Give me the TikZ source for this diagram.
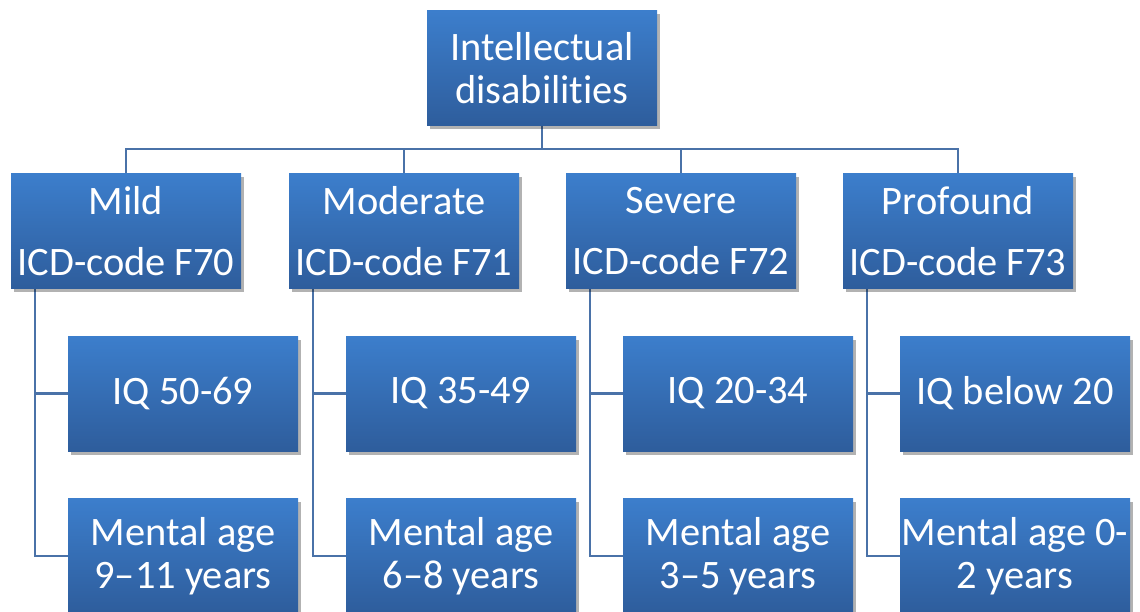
\documentclass[tikz,border=0pt]{standalone}
\usepackage{fontspec}
\setmainfont{Carlito}[RawFeature=-liga]
\usepackage{xcolor}
\definecolor{boxtop}{RGB}{60,126,204}
\definecolor{boxbottom}{RGB}{46,93,156}
\definecolor{wire}{RGB}{74,114,168}
\usetikzlibrary{backgrounds,shadows}
\tikzset{
    level/.style = {
      top color=boxtop,
      bottom color=boxbottom,
      text=white,
      minimum width=4.6cm,
      minimum height=2.3cm,
      inner sep=0pt,
      align=center,
      font=\fontsize{23}{24.5}\selectfont,
      drop shadow={shadow xshift=0.05cm, shadow yshift=-0.07cm,
                   opacity=0.3, fill=black}
    },
    link/.style = {
      draw=wire,
      line width=1.2pt
    }
}

\begin{document}
\begin{tikzpicture}
      \useasboundingbox (0,0) rectangle (22.8,-12.24);

      \node[level] (ID) at (10.84, -1.37) {Intellectual\\disabilities};

      \node[level] (mild) at (2.52,  -4.62) {Mild\\[10pt]ICD-code F70};
      \node[level] (mod)  at (8.08,  -4.62) {Moderate\\[10pt]ICD-code F71};
      \node[level] (sev)  at (13.62, -4.62) {Severe\\[10pt]ICD-code F72};
      \node[level] (prof) at (19.16, -4.62) {Profound\\[10pt]ICD-code F73};

      \node[level] (mildIQ)  at (3.66,  -7.87) {IQ 50-69};
      \node[level] (modIQ)   at (9.22,  -7.87) {IQ 35-49};
      \node[level] (sevIQ)   at (14.76, -7.87) {IQ 20-34};
      \node[level] (profIQ)  at (20.3,  -7.87) {IQ below 20};

      \node[level] (mildAge) at (3.66,  -11.12) {Mental age\\9--11 years};
      \node[level] (modAge)  at (9.22,  -11.12) {Mental age\\6--8 years};
      \node[level] (sevAge)  at (14.76, -11.12) {Mental age\\3--5 years};
      \node[level] (profAge) at (20.3,  -11.12) {Mental age 0-\\2 years};

      \begin{scope}[on background layer]
        % top bus
        \draw[link] (ID.south) -- ++(0,-0.46) coordinate (bus);
        \draw[link] (mild.north) |- (bus) -| (prof.north);
        \draw[link] (mod.north) |- (bus);
        \draw[link] (sev.north) |- (bus);

        % branches of each group
        \draw[link] ([xshift=0.48cm]mild.south west) |- (mildIQ.west);
        \draw[link] ([xshift=0.48cm]mild.south west) |- (mildAge.west);
        \draw[link] ([xshift=0.48cm]mod.south west)  |- (modIQ.west);
        \draw[link] ([xshift=0.48cm]mod.south west)  |- (modAge.west);
        \draw[link] ([xshift=0.48cm]sev.south west)  |- (sevIQ.west);
        \draw[link] ([xshift=0.48cm]sev.south west)  |- (sevAge.west);
        \draw[link] ([xshift=0.48cm]prof.south west) |- (profIQ.west);
        \draw[link] ([xshift=0.48cm]prof.south west) |- (profAge.west);
      \end{scope}
\end{tikzpicture}
\end{document}
